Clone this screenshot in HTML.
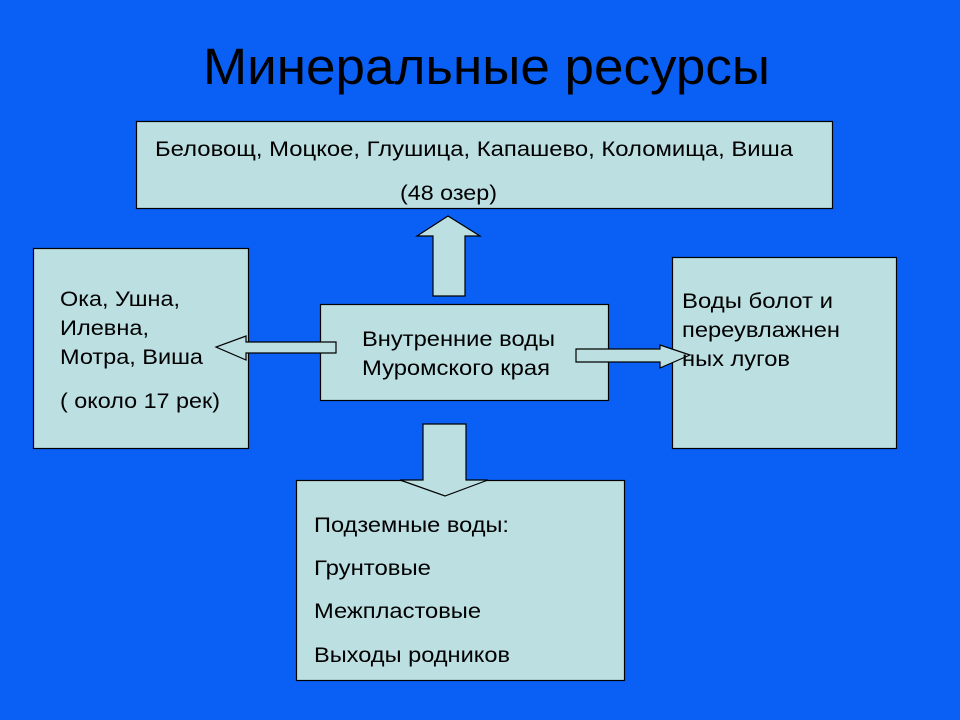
<!DOCTYPE html>
<html><head><meta charset="utf-8"><style>
html,body{margin:0;padding:0;background:#0a5ff5;}
svg{display:block}
text{font-family:"Liberation Sans",Arial,sans-serif;fill:#000}
</style></head><body>
<svg width="960" height="720" viewBox="0 0 960 720">
<rect width="960" height="720" fill="#0a5ff5"/>
<text x="203" y="84" font-size="51" textLength="567" lengthAdjust="spacingAndGlyphs">Минеральные ресурсы</text>
<g fill="#bcdfe2" stroke="#000" stroke-width="1.2">
<rect x="136.5" y="121.5" width="696" height="87"/>
<rect x="33.5" y="248.5" width="215" height="200"/>
<rect x="320.5" y="304.5" width="288" height="96"/>
<rect x="672.5" y="257.5" width="224" height="191"/>
<rect x="296.5" y="480.5" width="328" height="200"/>
<polygon points="433,296 433,236 417,236 448,216 480,236 465,236 465,296"/>
<polygon points="336,342 336,353 246,353 246,360 216,347 246,336 246,342"/>
<polygon points="576,349 660,349 660,345 690,355 660,368 660,362 576,362"/>
<polygon points="423,424 466,424 466,480 488,480 445,496 400,480 423,480"/>
</g>
<g font-size="21" lengthAdjust="spacingAndGlyphs">
<text x="155" y="156" textLength="638" lengthAdjust="spacingAndGlyphs">Беловощ, Моцкое, Глушица, Капашево, Коломища, Виша</text>
<text x="400" y="200" textLength="97" lengthAdjust="spacingAndGlyphs">(48 озер)</text>
<text x="60" y="306" textLength="120" lengthAdjust="spacingAndGlyphs">Ока, Ушна,</text>
<text x="60" y="335" textLength="89" lengthAdjust="spacingAndGlyphs">Илевна,</text>
<text x="60" y="364" textLength="143" lengthAdjust="spacingAndGlyphs">Мотра, Виша</text>
<text x="60" y="408" textLength="160" lengthAdjust="spacingAndGlyphs">( около 17 рек)</text>
<text x="362" y="346" textLength="193" lengthAdjust="spacingAndGlyphs">Внутренние воды</text>
<text x="362" y="375" textLength="188" lengthAdjust="spacingAndGlyphs">Муромского края</text>
<text x="682" y="308" textLength="151" lengthAdjust="spacingAndGlyphs">Воды болот и</text>
<text x="682" y="337" textLength="158" lengthAdjust="spacingAndGlyphs">переувлажнен</text>
<text x="682" y="366" textLength="108" lengthAdjust="spacingAndGlyphs">ных лугов</text>
<text x="314" y="532" textLength="195" lengthAdjust="spacingAndGlyphs">Подземные воды:</text>
<text x="314" y="575" textLength="117" lengthAdjust="spacingAndGlyphs">Грунтовые</text>
<text x="314" y="618" textLength="167" lengthAdjust="spacingAndGlyphs">Межпластовые</text>
<text x="314" y="662" textLength="196" lengthAdjust="spacingAndGlyphs">Выходы родников</text>
</g>
</svg>
</body></html>
